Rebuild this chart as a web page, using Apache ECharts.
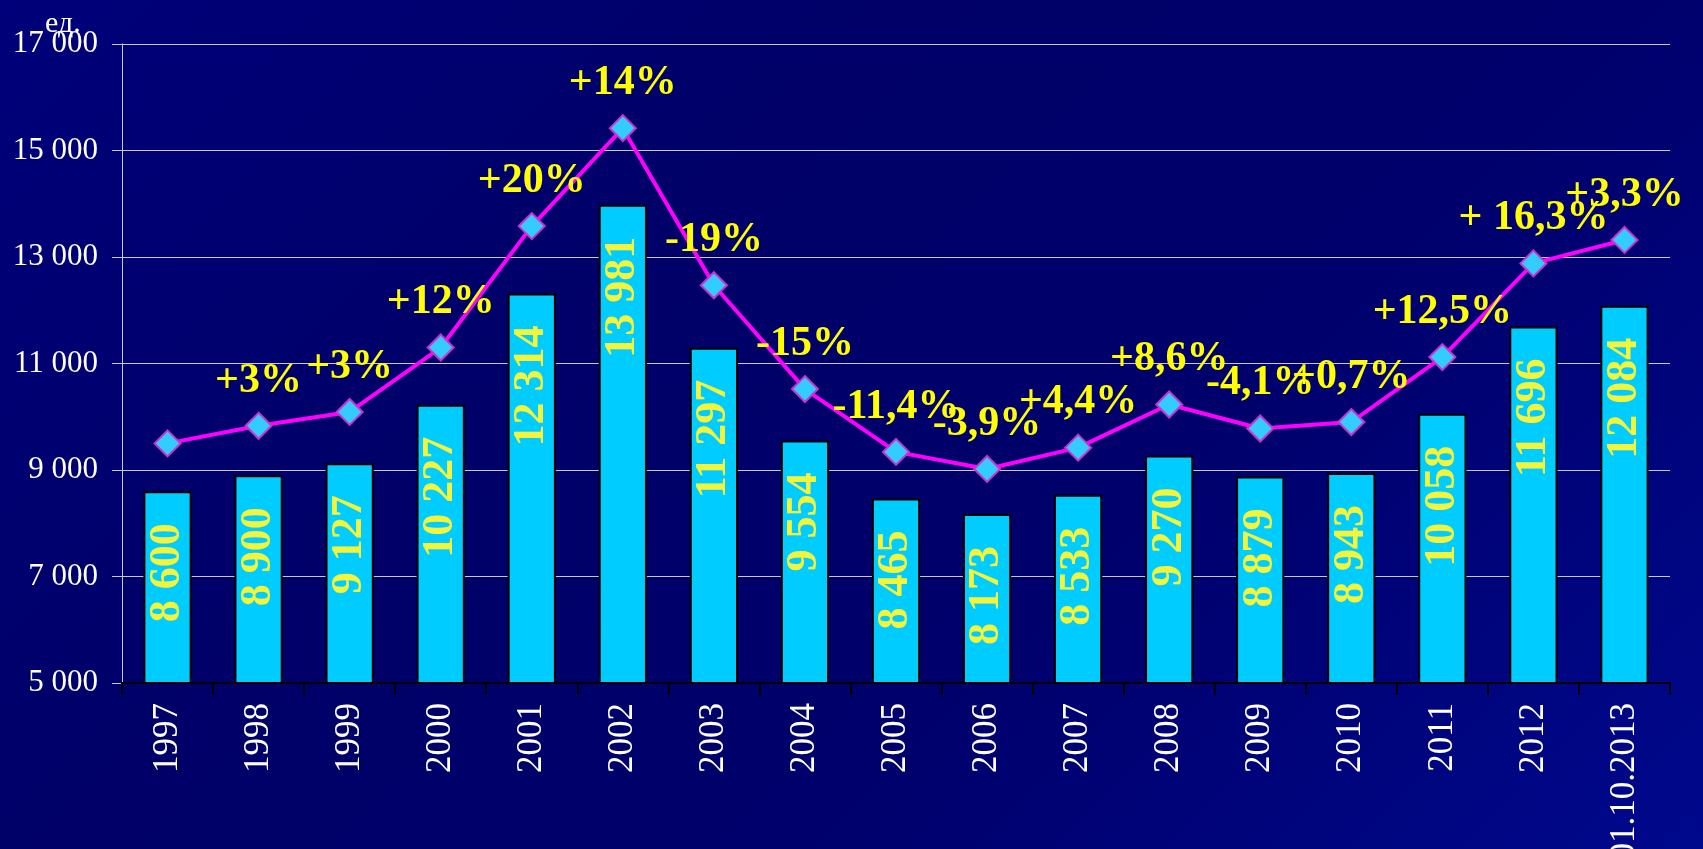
<!DOCTYPE html>
<html>
<head>
<meta charset="utf-8">
<script src="https://cdn.jsdelivr.net/npm/echarts@6/dist/echarts.min.js"></script>
<style>
  html, body { margin: 0; padding: 0; width: 1703px; height: 849px; overflow: hidden; }
  body { background: linear-gradient(135deg, #00007a 0%, #000068 35%, #00006c 65%, #00088c 100%); }
  #chart { width: 1703px; height: 849px; }
</style>
</head>
<body>
<div id="chart"></div>
<script>
const categories = ["1997", "1998", "1999", "2000", "2001", "2002", "2003", "2004", "2005",
  "2006", "2007", "2008", "2009", "2010", "2011", "2012", "01.10.2013"];
const barValues = [8600, 8900, 9127, 10227, 12314, 13981, 11297, 9554, 8465,
  8173, 8533, 9270, 8879, 8943, 10058, 11696, 12084];
const lineValues = [9500, 9830, 10090, 11300, 13580, 15420, 12470, 10520, 9340,
  9020, 9420, 10230, 9780, 9900, 11120, 12880, 13320];
const changeLabels = ["", "+3%", "+3%", "+12%", "+20%", "+14%", "-19%", "-15%", "-11,4%",
  "-3,9%", "+4,4%", "+8,6%", "-4,1%", "+0,7%", "+12,5%", "+ 16,3%", "+3,3%"];

const SERIF = "'Liberation Serif', 'DejaVu Serif', serif";
const fmt = (v) => String(v).replace(/\B(?=(\d{3})+(?!\d))/g, " ");

const chart = echarts.init(document.getElementById("chart"));
chart.setOption({
  backgroundColor: "transparent",
  animation: false,
  title: {
    text: "ед.",
    left: 40,
    top: 4,
    textStyle: { color: "#ffffff", fontFamily: SERIF, fontSize: 30, fontWeight: "normal" }
  },
  grid: { left: 122, right: 33, top: 44, bottom: 166, containLabel: false, outerBoundsMode: "none" },
  xAxis: {
    type: "category",
    data: categories,
    axisLine: { lineStyle: { color: "#000000", width: 2 } },
    axisTick: { show: true, length: 12, lineStyle: { color: "#000000", width: 2 } },
    axisLabel: {
      rotate: 90,
      margin: 20,
      color: "#ffffff",
      fontFamily: SERIF,
      fontSize: 35
    }
  },
  yAxis: {
    type: "value",
    min: 5000,
    max: 17000,
    interval: 2000,
    axisLine: { show: true, lineStyle: { color: "#c8c8c8", width: 1 } },
    axisTick: { show: true, length: 10, lineStyle: { color: "#c8c8c8" } },
    axisLabel: {
      color: "#ffffff",
      fontFamily: SERIF,
      fontSize: 31,
      margin: 24,
      formatter: (v) => fmt(v)
    },
    splitLine: { lineStyle: { color: "#c8c8c8", width: 1 } }
  },
  series: [
    {
      type: "bar",
      data: barValues,
      barWidth: "53%",
      itemStyle: { color: "#00ccff", borderColor: "#000000", borderWidth: 2 },
      label: {
        show: true,
        position: "insideTop",
        distance: 32,
        rotate: 90,
        align: "right",
        verticalAlign: "middle",
        color: "#f4f43a",
        fontFamily: SERIF,
        fontWeight: "bold",
        fontSize: 44,
        formatter: (p) => fmt(p.value)
      }
    },
    {
      type: "line",
      data: lineValues,
      z: 5,
      symbol: "diamond",
      symbolSize: 26,
      lineStyle: { color: "#ff00ff", width: 4 },
      itemStyle: { color: "#33ccff", borderColor: "#cc33cc", borderWidth: 2 },
      label: {
        show: true,
        position: "top",
        distance: 10,
        color: "#ffff00",
        fontFamily: SERIF,
        fontWeight: "bold",
        fontSize: 42,
        formatter: (p) => changeLabels[p.dataIndex]
      }
    }
  ]
});
</script>
</body>
</html>
